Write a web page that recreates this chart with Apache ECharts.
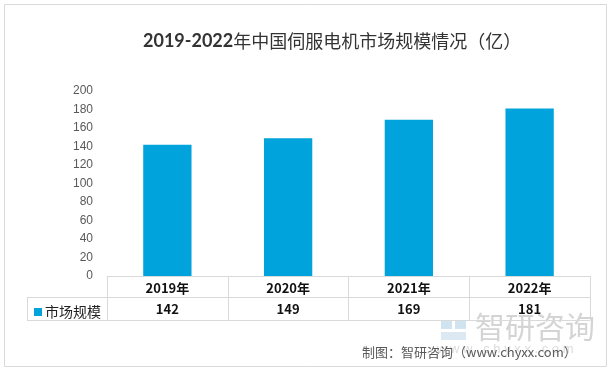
<!DOCTYPE html>
<html><head><meta charset="utf-8">
<script src="https://cdn.jsdelivr.net/npm/echarts@6/dist/echarts.min.js"></script>
<style>html,body{margin:0;padding:0;background:#fff}#c{width:613px;height:372px}</style>
</head><body><div id="c"></div>
<script>
var categories = ['2019年', '2020年', '2021年', '2022年'];
var values = [142, 149, 169, 181];
var seriesName = '市场规模';
var yTicks = {min: 0, max: 200, interval: 20};

var chart = echarts.init(document.getElementById('c'));
var gridLine = '#d9d9d9';
var fontCJK = '"Noto Sans CJK SC", "Noto Sans", sans-serif';
chart.setOption({
  animation: false,
  backgroundColor: '#fff',
  title: {
    text: '{b|2019-2022}{n|年中国伺服电机市场规模情况（亿）}',
    left: 138, top: 27,
    textStyle: {
      rich: {
        b: {fontSize: 18, fontWeight: 'bold', color: '#333', fontFamily: 'Lato, "Noto Sans", sans-serif'},
        n: {fontSize: 18, fontWeight: 'normal', color: '#333', fontFamily: fontCJK}
      }
    }
  },
  legend: {
    data: [seriesName], left: 29, top: 300, icon: 'rect', itemWidth: 8, itemHeight: 8, itemGap: 4,
    textStyle: {fontSize: 14, color: '#222', fontFamily: fontCJK, padding: [0, 0, 0, -2]}
  },
  grid: {left: 107, right: 23, top: 91, bottom: 96},
  yAxis: {
    type: 'value', min: yTicks.min, max: yTicks.max, interval: yTicks.interval,
    splitLine: {show: false}, axisLine: {show: false}, axisTick: {show: false},
    axisLabel: {color: '#595959', fontSize: 12, margin: 14, fontFamily: 'Liberation Sans, sans-serif'}
  },
  xAxis: [
    {
      type: 'category', data: categories, position: 'bottom',
      axisLine: {show: true, lineStyle: {color: gridLine}},
      axisTick: {show: true, length: 44, lineStyle: {color: gridLine}},
      axisLabel: {margin: 6, fontSize: 13, fontWeight: 'bold', color: '#111', fontFamily: fontCJK}
    },
    {
      type: 'category', data: categories, position: 'bottom', offset: 21,
      axisLine: {show: true, lineStyle: {color: gridLine}},
      axisTick: {show: false},
      axisLabel: {margin: 6, fontSize: 13, fontWeight: 'bold', color: '#111', fontFamily: fontCJK,
        formatter: function (v, i) { return String(values[i]); }}
    },
    {
      type: 'category', data: categories, position: 'bottom', offset: 44,
      axisLine: {show: true, lineStyle: {color: gridLine}},
      axisTick: {show: false}, axisLabel: {show: false}
    }
  ],
  series: [{
    name: seriesName, type: 'bar', data: values, barWidth: '40%',
    itemStyle: {color: '#00A3DC'}
  }],
  graphic: [
    {type: 'rect', shape: {x: 4.5, y: 4.5, width: 602, height: 362}, style: {fill: 'none', stroke: '#d9d9d9', lineWidth: 1}, z: -1},
    {type: 'line', shape: {x1: 27, y1: 297.5, x2: 107, y2: 297.5}, style: {stroke: gridLine, lineWidth: 1}},
    {type: 'line', shape: {x1: 27, y1: 320.5, x2: 107, y2: 320.5}, style: {stroke: gridLine, lineWidth: 1}},
    {type: 'line', shape: {x1: 27.5, y1: 297, x2: 27.5, y2: 321}, style: {stroke: gridLine, lineWidth: 1}},
    {type: 'rect', shape: {x: 441, y: 320, width: 11, height: 9}, style: {fill: '#cfe3f1'}},
    {type: 'rect', shape: {x: 455, y: 320, width: 11, height: 9}, style: {fill: '#cfe3f1'}},
    {type: 'rect', shape: {x: 441, y: 332, width: 25, height: 8}, style: {fill: '#dce9f3'}},
    {type: 'text', left: 475, top: 312, style: {text: '智研咨询', fontSize: 30, fill: '#d4d4d4', fontFamily: fontCJK}},
    {type: 'text', left: 437, top: 343, style: {text: 'w w w . c h y x x . c o m', fontSize: 13, fill: '#dcdcdc', fontFamily: 'Liberation Sans, sans-serif'}},
    {type: 'text', left: 362, top: 346, style: {text: '制图：智研咨询（www.chyxx.com）', fontSize: 13, fill: '#595959', fontFamily: fontCJK}}
  ]
});
</script></body></html>
